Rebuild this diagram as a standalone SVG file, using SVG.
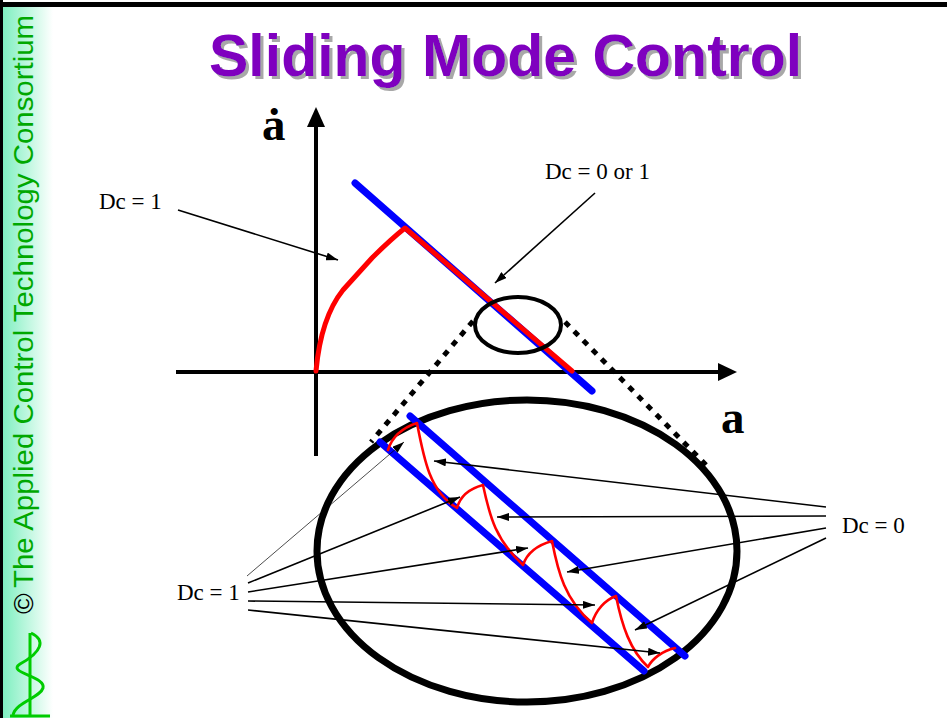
<svg xmlns="http://www.w3.org/2000/svg" width="947" height="718" viewBox="0 0 947 718">
<defs>
<linearGradient id="side" x1="0" y1="0" x2="1" y2="0">
<stop offset="0" stop-color="#7FEFC0"/>
<stop offset="1" stop-color="#FFFFFF"/>
</linearGradient>
<filter id="shadow" x="-5%" y="-20%" width="110%" height="140%">
<feFlood flood-color="#A8A8A8" result="c"/>
<feComposite in="c" in2="SourceAlpha" operator="in" result="s"/>
<feOffset in="s" dx="3" dy="3" result="o"/>
<feMerge><feMergeNode in="o"/><feMergeNode in="SourceGraphic"/></feMerge>
</filter>
<marker id="ah" viewBox="0 0 12 8" refX="12" refY="4" markerWidth="12" markerHeight="8" markerUnits="userSpaceOnUse" orient="auto">
<path d="M0,0 L12,4 L0,8 Z" fill="#000"/>
</marker>
</defs>
<style>
.lbl{font-family:"Liberation Serif","Times New Roman",serif;font-size:23px;fill:#000}
.ax{font-family:"Liberation Serif","Times New Roman",serif;font-size:47px;font-weight:bold;fill:#000}
.ptr{stroke:#000;stroke-width:1.6;fill:none;marker-end:url(#ah)}
.blue{stroke:#0000FF;stroke-width:7;stroke-linecap:round;fill:none}
.red{stroke:#FF0000;fill:none;stroke-linecap:round;stroke-linejoin:round}
.dot{stroke:#000;stroke-width:5;stroke-dasharray:6 7;fill:none}
</style>
<rect width="947" height="718" fill="#fff"/>
<g id="sidebar">
<rect x="3" y="6" width="50" height="712" fill="url(#side)"/>
<rect x="0" y="0" width="3" height="718" fill="#000"/>
<rect x="0" y="2" width="947" height="5" fill="#000"/>
<text transform="translate(33,614) rotate(-90)" font-family="Liberation Sans, Arial, sans-serif" font-size="28" fill="#000">©</text>
<text transform="translate(33,588) rotate(-90)" font-family="Liberation Sans, Arial, sans-serif" font-size="28" fill="#00A800" textLength="573" lengthAdjust="spacingAndGlyphs">The Applied Control Technology Consortium</text>
<g fill="none" stroke="#00CC00" stroke-width="3">
<line x1="30" y1="633" x2="30" y2="716"/>
<line x1="10" y1="716" x2="50" y2="716"/>
<path d="M31,633 C46,640 42,652 20,664 C6,673 46,676 43,688 C40,698 16,702 13,715"/>
</g>
</g>
<g id="title">
<text x="209" y="76" font-family="Liberation Sans, Arial, sans-serif" font-size="59" font-weight="bold" fill="#7F00BF" filter="url(#shadow)">Sliding Mode Control</text>
</g>
<g id="axes">
<line x1="316" y1="456" x2="316" y2="125" stroke="#000" stroke-width="4"/>
<polygon points="316,107 307,127 325,127" fill="#000"/>
<line x1="176" y1="372" x2="720" y2="372" stroke="#000" stroke-width="4"/>
<polygon points="737,372 718,363 718,381" fill="#000"/>
<text class="ax" x="262" y="140">ȧ</text>
<text class="ax" x="721" y="433">a</text>
</g>
<g id="zoom-lines">
<line class="dot" x1="473" y1="321" x2="371" y2="442"/>
<line class="dot" x1="565" y1="322" x2="706" y2="465"/>
</g>
<g id="phase-plot">
<line class="blue" x1="355" y1="183" x2="592" y2="391"/>
<path class="red" stroke-width="5" d="M316,371 C319,338 327,310 343,290 L372,258 C385,245 395,236 405,228 L572,371"/>
</g>
<g id="small-ellipse">
<ellipse cx="518" cy="325" rx="43" ry="28" fill="none" stroke="#000" stroke-width="4"/>
</g>
<g id="big-ellipse">
<ellipse cx="527" cy="551" rx="210" ry="151" fill="none" stroke="#000" stroke-width="7"/>
</g>
<g id="band">
<line class="blue" x1="410" y1="416" x2="685" y2="656"/>
<line class="blue" x1="380" y1="442" x2="644" y2="671"/>
<path class="red" stroke-width="2.6" d="M388,450 C392,437 402,428 417,423 C424,460 430,492 457,508 C460,497 468,489 483,485 C490,518 496,540 523,565 C527,553 538,545 552,541 C558,572 565,600 592,623 C596,610 605,600 616,596 C622,626 630,650 648,667 C652,659 662,651 675,648"/>
</g>
<g id="connectors">
<line class="ptr" x1="178" y1="210" x2="338" y2="260"/>
<line class="ptr" x1="595" y1="193" x2="495" y2="283"/>
<line class="ptr" x1="826" y1="507" x2="434" y2="461"/>
<line class="ptr" x1="826" y1="516" x2="497" y2="517"/>
<line class="ptr" x1="826" y1="528" x2="567" y2="572"/>
<line class="ptr" x1="826" y1="538" x2="635" y2="630"/>
<line x1="247" y1="576" x2="404" y2="442" stroke="#000" stroke-width="0.7" marker-end="url(#ah)"/>
<line class="ptr" x1="248" y1="583" x2="460" y2="497"/>
<line class="ptr" x1="248" y1="592" x2="528" y2="548"/>
<line class="ptr" x1="248" y1="601" x2="595" y2="605"/>
<line class="ptr" x1="248" y1="610" x2="660" y2="653"/>
</g>
<g id="labels">
<text class="lbl" x="99" y="209">Dc = 1</text>
<text class="lbl" x="545" y="179">Dc = 0 or 1</text>
<text class="lbl" x="842" y="533">Dc = 0</text>
<text class="lbl" x="177" y="600">Dc = 1</text>
</g>
</svg>
